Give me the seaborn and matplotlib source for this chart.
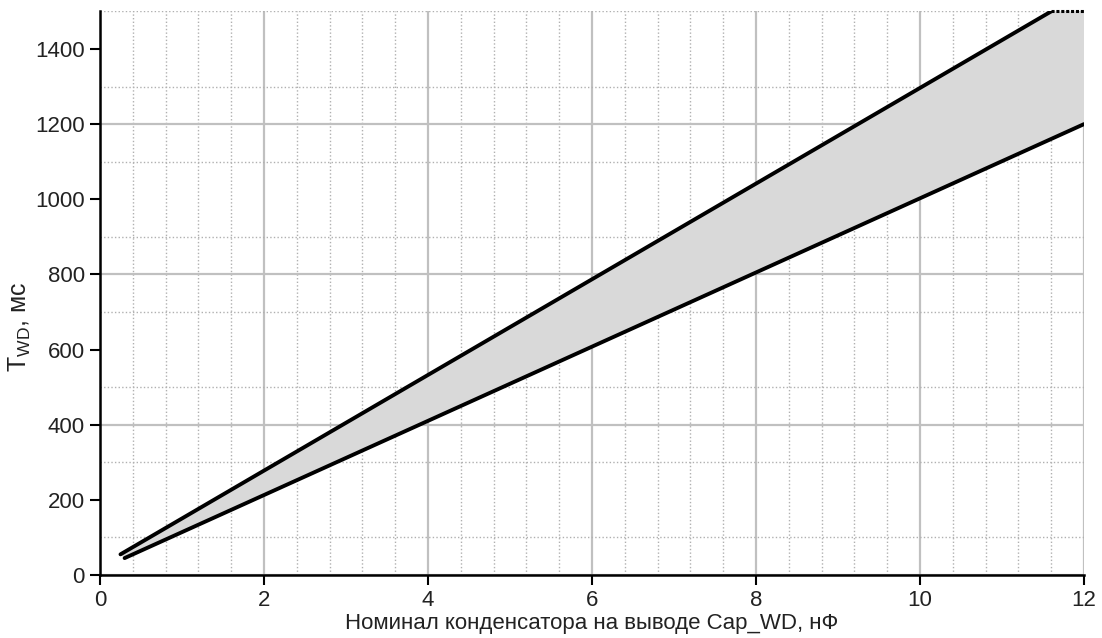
import numpy as np
import pandas as pd
import matplotlib
matplotlib.use("Agg")
import matplotlib.pyplot as plt
from matplotlib.ticker import MultipleLocator
import seaborn as sns

# Upper / lower limits of the watchdog period vs. capacitor value
cap_upper = [0.25, 11.6]
t_upper = [55, 1500]
cap_lower = [0.3, 12.0]
t_lower = [45, 1200]

x_max = 12
y_max = 1500

sns.set_style("ticks")
plt.rcParams["font.family"] = ["Liberation Sans", "DejaVu Sans"]
plt.rcParams["mathtext.fontset"] = "custom"
plt.rcParams["mathtext.rm"] = "Liberation Sans"

font_size = 16

fig = plt.figure(figsize=(11.02, 6.38), dpi=100)
ax = fig.add_axes([100 / 1102, 1 - 575 / 638, 984 / 1102, (575 - 11.4) / 638])

# shaded band between the two limits
poly_x = cap_upper + [x_max] + cap_lower[::-1]
poly_y = t_upper + [y_max] + t_lower[::-1]
ax.fill(poly_x, poly_y, color="#d9d9d9", lw=0, zorder=2)

df_up = pd.DataFrame({"cap": cap_upper, "t": t_upper})
df_lo = pd.DataFrame({"cap": cap_lower, "t": t_lower})
sns.lineplot(data=df_up, x="cap", y="t", color="black", linewidth=2.8, ax=ax, zorder=4)
sns.lineplot(data=df_lo, x="cap", y="t", color="black", linewidth=2.8, ax=ax, zorder=4)
ax.plot([cap_upper[-1], x_max], [y_max, y_max], color="black", lw=2.2,
        linestyle=(0, (1, 0.6)), zorder=4, clip_on=False)

ax.set_xlim(0, x_max)
ax.set_ylim(0, y_max)

ax.xaxis.set_major_locator(MultipleLocator(2))
ax.xaxis.set_minor_locator(MultipleLocator(0.4))
ax.yaxis.set_major_locator(MultipleLocator(200))
ax.yaxis.set_minor_locator(MultipleLocator(100))

ax.grid(which="minor", color="#b0b0b0", linestyle=(0, (1.0, 1.6)), linewidth=1.0, zorder=1)
ax.grid(which="major", axis="x", color="#c0c0c0", linestyle="-", linewidth=1.6, zorder=1)
ax.grid(which="major", axis="y", visible=False)
for yv in range(0, y_max + 1, 400):
    ax.axhline(yv, color="#c0c0c0", linewidth=1.6, zorder=1)

for side in ["top", "right"]:
    ax.spines[side].set_visible(False)
for side in ["left", "bottom"]:
    ax.spines[side].set_linewidth(1.8)
    ax.spines[side].set_color("black")
    ax.spines[side].set_zorder(5)

ax.tick_params(axis="both", which="major", direction="out", length=7, width=1.5,
               labelsize=font_size, colors="black", labelcolor="#222222", pad=4)
ax.tick_params(axis="both", which="minor", length=0)

ax.set_xlabel("Номинал конденсатора на выводе Cap_WD, нФ", fontsize=font_size,
              color="#222222", labelpad=1)
ax.set_ylabel("T$_{\\mathrm{WD}}$, мс", fontsize=font_size + 2, color="#222222")
ax.yaxis.set_label_coords(-0.068, 0.44)

fig.savefig("out.png", dpi=100)
